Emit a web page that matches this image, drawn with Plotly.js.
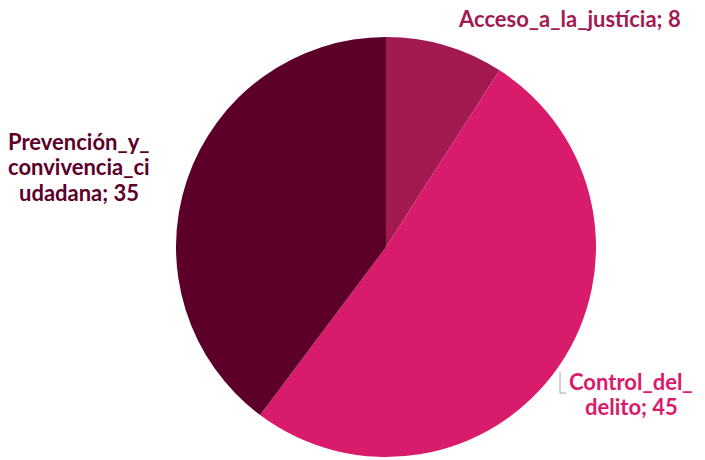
<!DOCTYPE html>
<html>
<head>
<meta charset="utf-8">
<script src="https://cdn.plot.ly/plotly-3.0.1.min.js"></script>
<style>html,body{margin:0;padding:0;background:#fff;}#chart{width:705px;height:460px;}</style>
</head>
<body>
<div id="chart"></div>
<script>
const labels = ["Acceso_a_la_justícia", "Control_del_delito", "Prevención_y_convivencia_ciudadana"];
const values = [8, 45, 35];
const labelLines = [["Acceso_a_la_justícia; "], ["Control_del_", "delito; "], ["Prevención_y_", "convivencia_ci", "udadana; "]];
const colors = ["#A31A52", "#D81B6A", "#5C0029"];

const W = 705, H = 460;
const px = (x) => x / W, py = (y) => 1 - y / H;

const trace = {
  type: "pie",
  labels: labels,
  values: values,
  sort: false,
  direction: "clockwise",
  rotation: 0,
  textinfo: "none",
  hoverinfo: "label+value",
  marker: { colors: colors, line: { width: 0 } },
  domain: { x: [176 / W, 596 / W], y: [1 - 457 / H, 1 - 37 / H] },
  showlegend: false
};

// centre x and first-line centre y (pixels) of each label block
const labelPos = [
  { x: 569, y: 19 },
  { x: 631, y: 381 },
  { x: 79, y: 141 }
];
const lineGap = 25.5;

const annotations = [];
labels.forEach((l, i) => {
  const lines = labelLines[i];
  lines.forEach((t, j) => {
    const txt = j === lines.length - 1 ? t + values[i] : t;
    annotations.push({
      text: txt,
      x: px(labelPos[i].x), y: py(labelPos[i].y + j * lineGap),
      xref: "paper", yref: "paper",
      xanchor: "center", yanchor: "middle",
      showarrow: false,
      font: { family: "Lato, sans-serif", size: 22, color: colors[i], weight: 700 }
    });
  });
});

const layout = {
  width: W, height: H,
  margin: { l: 0, r: 0, t: 0, b: 0 },
  paper_bgcolor: "#ffffff",
  annotations: annotations,
  shapes: [{
    type: "path", xref: "paper", yref: "paper",
    path: `M ${px(560)} ${py(372)} L ${px(560)} ${py(393)} L ${px(566)} ${py(393)}`,
    line: { color: "#A6A6A6", width: 1 }
  }]
};

Plotly.newPlot("chart", [trace], layout, { displayModeBar: false, staticPlot: true });
</script>
</body>
</html>
